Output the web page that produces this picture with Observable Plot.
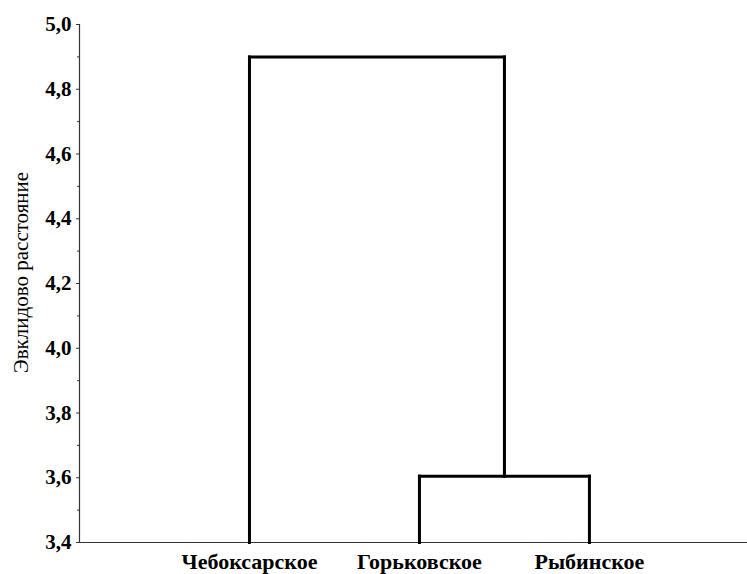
<!DOCTYPE html>
<html>
<head>
<meta charset="utf-8">
<script src="https://cdn.jsdelivr.net/npm/d3@7"></script>
<script src="https://cdn.jsdelivr.net/npm/@observablehq/plot@0.6"></script>
<style>
  html, body { margin: 0; padding: 0; background: #fff; }
  #chart svg, #chart svg text { font-family: "Liberation Serif", "Times New Roman", serif !important; }
</style>
</head>
<body>
<div id="chart"></div>
<script>
// Leaves (in display order) and their positions along x
const leaves = ["Чебоксарское", "Горьковское", "Рыбинское"];
const leafPos = [1, 2, 3];
// Merges: [childA, childB, height]; children: "L<i>" leaf index, "M<j>" merge index
const mergeA = ["L1", "L0"];
const mergeB = ["L2", "M0"];
const mergeH = [3.605, 4.9];
const yMajorTicks = [3.4, 3.6, 3.8, 4.0, 4.2, 4.4, 4.6, 4.8, 5.0];
const yMinorTicks = [3.5, 3.7, 3.9, 4.1, 4.3, 4.5, 4.7, 4.9];
const yLabel = "Эвклидово расстояние";
const yMin = 3.4, yMax = 5.0;

// Build dendrogram segments from tree structure
const nodePos = {};
leaves.forEach((d, i) => nodePos["L" + i] = {x: leafPos[i], y: yMin});
const segs = [];
mergeH.forEach((h, j) => {
  const a = nodePos[mergeA[j]], b = nodePos[mergeB[j]];
  segs.push({x1: a.x, y1: a.y, x2: a.x, y2: h});
  segs.push({x1: b.x, y1: b.y, x2: b.x, y2: h});
  segs.push({x1: a.x, y1: h, x2: b.x, y2: h});
  nodePos["M" + j] = {x: (a.x + b.x) / 2, y: h};
});

const fmt = d => d.toFixed(1).replace(".", ",");

const plot = Plot.plot({
  width: 747,
  height: 574,
  marginLeft: 79,
  marginRight: 0,
  marginTop: 24,
  marginBottom: 32,
  style: {background: "#fff", color: "#000", fontFamily: "Liberation Serif"},
  x: {domain: [0, 3.93]},
  y: {domain: [yMin, yMax]},
  marks: [
    Plot.ruleY([yMin], {stroke: "#333", strokeWidth: 1.2}),
    Plot.ruleX([0], {stroke: "#333", strokeWidth: 1.2}),
    Plot.axisY({ticks: yMinorTicks, tickSize: 2, text: null, label: null, stroke: "#333"}),
    Plot.axisY({ticks: yMajorTicks, tickSize: 3, tickPadding: 5, tickFormat: fmt, label: null,
      fontSize: 21, fontWeight: "bold", stroke: "#333", fill: "#000"}),
    Plot.text([yLabel], {frameAnchor: "left", dx: -58, dy: -11, rotate: -90, fontSize: 21, fill: "#000",
      textAnchor: "middle"}),
    Plot.axisX({ticks: leafPos, tickSize: 0, tickPadding: 11, tickFormat: (d, i) => leaves[i], label: null,
      fontSize: 22, fontWeight: "bold", fill: "#000"}),
    Plot.link(segs, {x1: "x1", y1: "y1", x2: "x2", y2: "y2", stroke: "#000", strokeWidth: 3,
      strokeLinecap: "square", strokeLinejoin: "miter"})
  ]
});
plot.querySelectorAll("text").forEach(t => t.style.fontFamily = "'Liberation Serif', serif");
document.getElementById("chart").appendChild(plot);
</script>
</body>
</html>
